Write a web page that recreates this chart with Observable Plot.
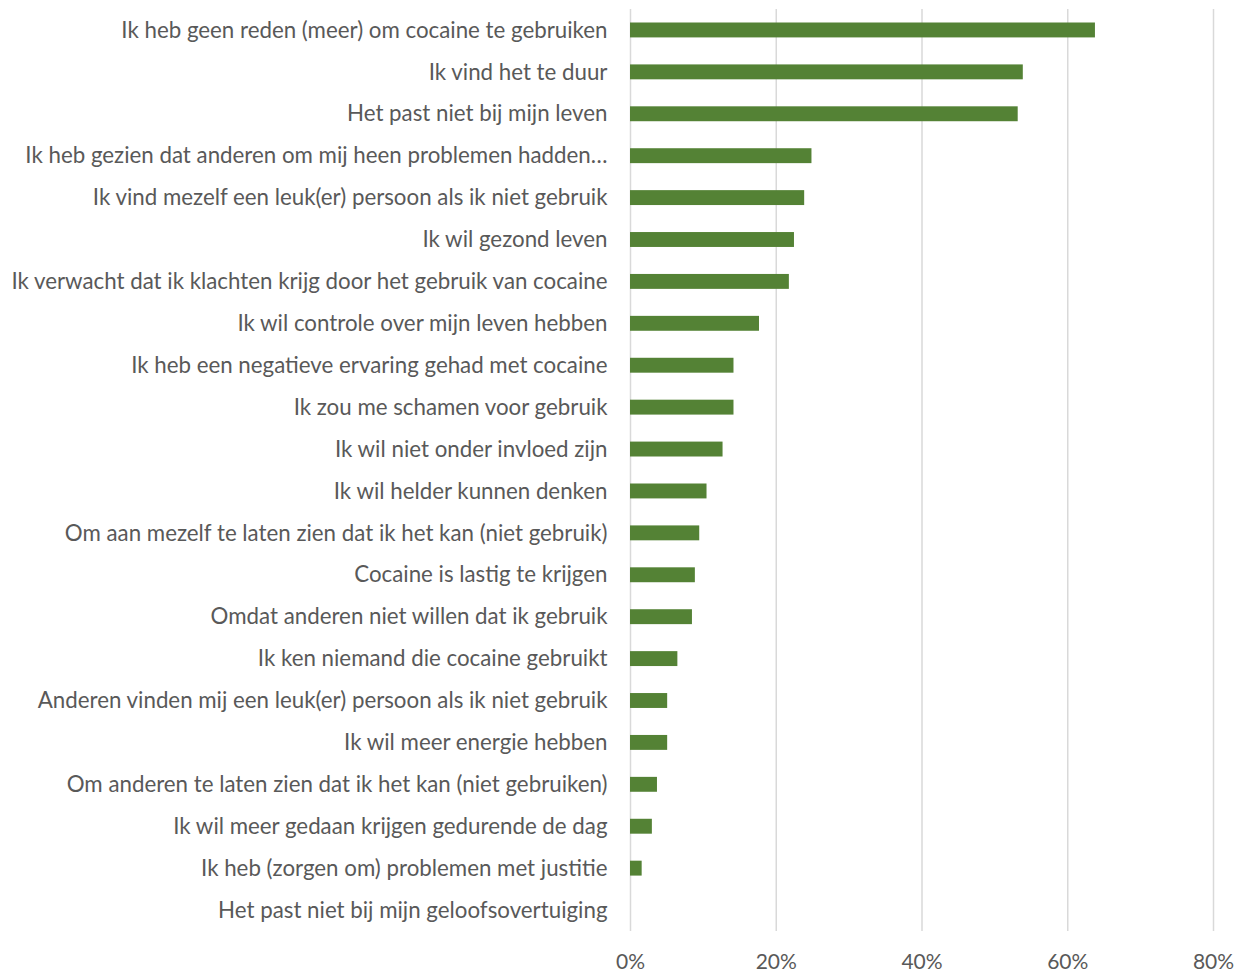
<!DOCTYPE html>
<html>
<head>
<meta charset="utf-8">
<script src="https://cdn.jsdelivr.net/npm/d3@7"></script>
<script src="https://cdn.jsdelivr.net/npm/@observablehq/plot@0.6"></script>
<style>
  html, body { margin: 0; padding: 0; background: #ffffff; }
  #chart svg { display: block; }
</style>
</head>
<body>
<div id="chart"></div>
<script>
const categories = [
  "Ik heb geen reden (meer) om cocaine te gebruiken",
  "Ik vind het te duur",
  "Het past niet bij mijn leven",
  "Ik heb gezien dat anderen om mij heen problemen hadden…",
  "Ik vind mezelf een leuk(er) persoon als ik niet gebruik",
  "Ik wil gezond leven",
  "Ik verwacht dat ik klachten krijg door het gebruik van cocaine",
  "Ik wil controle over mijn leven hebben",
  "Ik heb een negatieve ervaring gehad met cocaine",
  "Ik zou me schamen voor gebruik",
  "Ik wil niet onder invloed zijn",
  "Ik wil helder kunnen denken",
  "Om aan mezelf te laten zien dat ik het kan (niet gebruik)",
  "Cocaine is lastig te krijgen",
  "Omdat anderen niet willen dat ik gebruik",
  "Ik ken niemand die cocaine gebruikt",
  "Anderen vinden mij een leuk(er) persoon als ik niet gebruik",
  "Ik wil meer energie hebben",
  "Om anderen te laten zien dat ik het kan (niet gebruiken)",
  "Ik wil meer gedaan krijgen gedurende de dag",
  "Ik heb (zorgen om) problemen met justitie",
  "Het past niet bij mijn geloofsovertuiging"
];
const values = [
  0.638, 0.539, 0.532, 0.249, 0.239, 0.225, 0.218, 0.177, 0.142, 0.142, 0.127,
  0.105, 0.095, 0.089, 0.085, 0.065, 0.051, 0.051, 0.037, 0.030, 0.016, 0.0
];
const xTicks = [0, 0.2, 0.4, 0.6, 0.8];

const data = categories.map((c, i) => ({ category: c, value: values[i] }));

const chart = Plot.plot({
  width: 1234,
  height: 974,
  marginLeft: 630,
  marginRight: 21,
  marginTop: 9,
  marginBottom: 43,
  style: { fontFamily: "Lato, 'Open Sans', sans-serif", fontSize: "22px", color: "#595959", background: "#ffffff" },
  x: { domain: [0, 0.8], ticks: xTicks, tickFormat: d3.format(".0%"), label: null },
  y: { domain: categories, padding: 0, round: false, label: null },
  marks: [
    Plot.ruleX(xTicks, { stroke: "#d9d9d9", strokeWidth: 1.5 }),
    Plot.barX(data, { x: "value", y: "category", fill: "#548235", insetTop: 13.5, insetBottom: 13.5 }),
    Plot.axisX({ ticks: xTicks, tickFormat: d3.format(".0%"), tickSize: 0, tickPadding: 23, fontSize: 21, fill: "#595959", label: null }),
    Plot.axisY({ tickSize: 0, tickPadding: 23, fontSize: 22.3, fill: "#595959", label: null, textOverflow: null })
  ]
});
document.getElementById("chart").appendChild(chart);
</script>
</body>
</html>
